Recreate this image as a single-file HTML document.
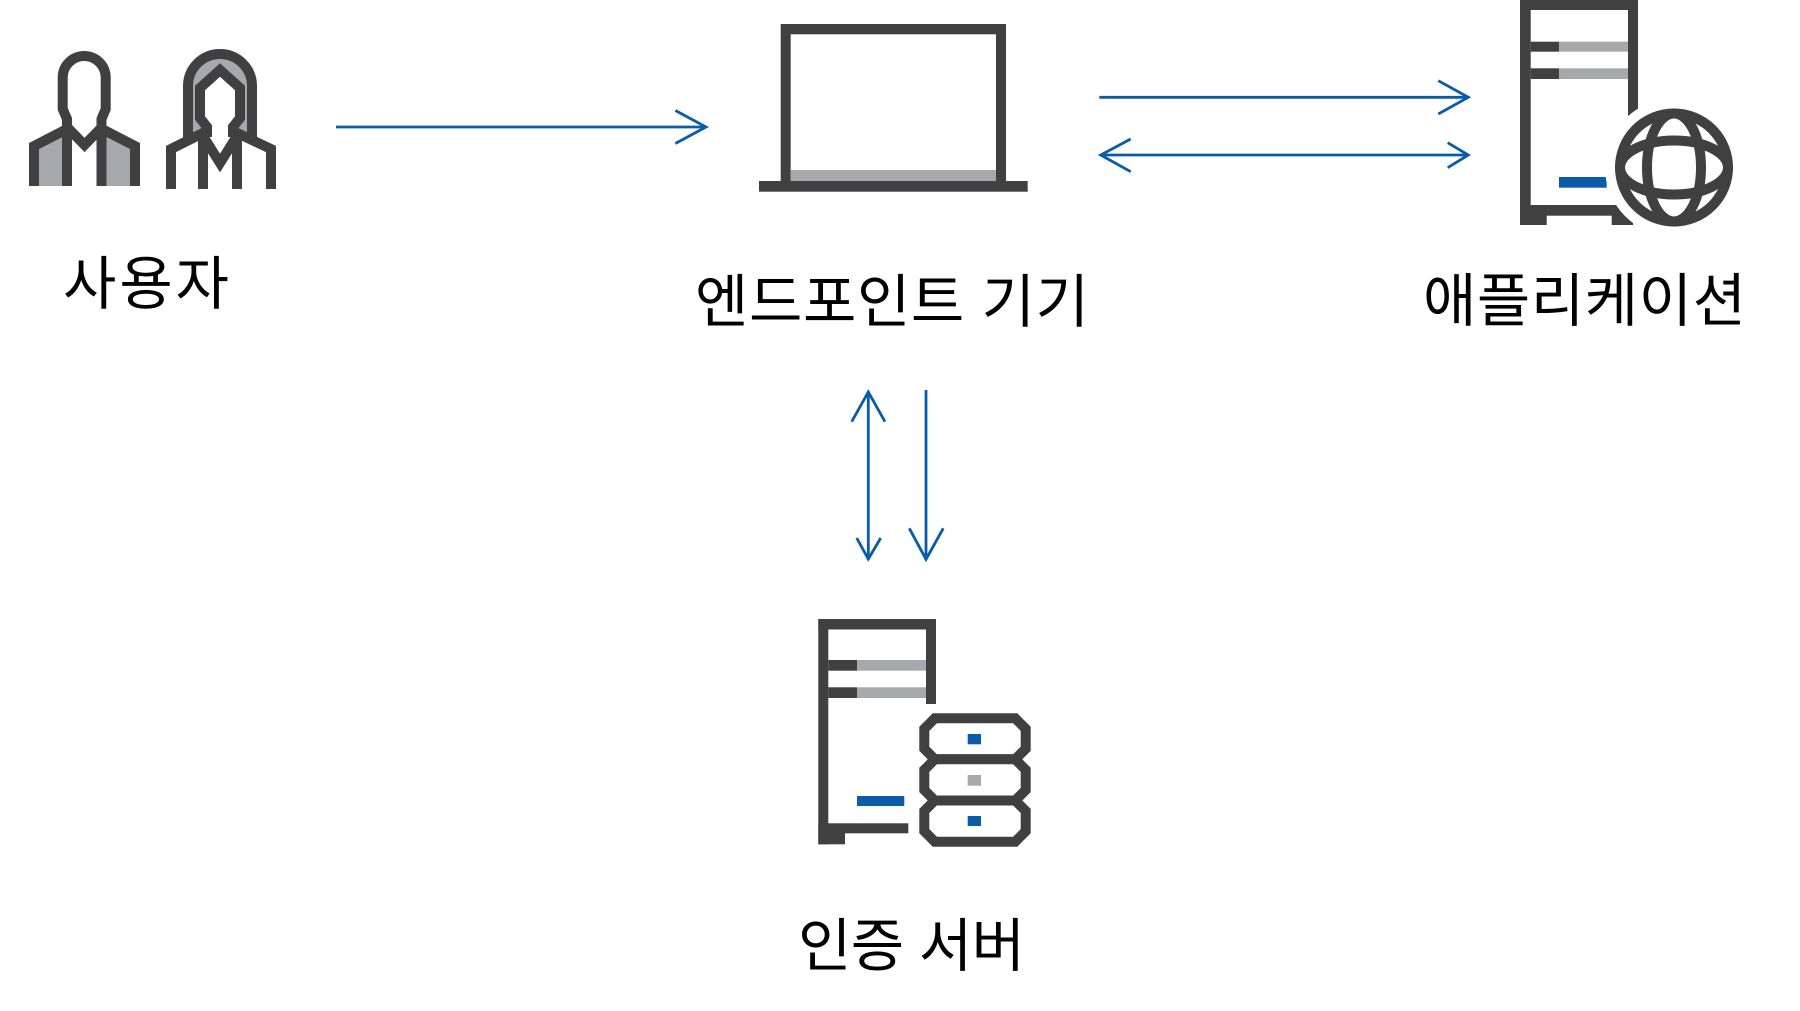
<!DOCTYPE html>
<html>
<head>
<meta charset="utf-8">
<style>
  html,body{margin:0;padding:0;background:#ffffff;}
  body{width:1800px;height:1011px;overflow:hidden;}
  svg{display:block;}
  .lbl{font-family:"Liberation Sans","Noto Sans CJK KR","NanumGothic",sans-serif;font-size:58px;fill:#000;}
</style>
</head>
<body>
<svg width="1800" height="1011" viewBox="0 0 1800 1011" xmlns="http://www.w3.org/2000/svg">
  <rect x="0" y="0" width="1800" height="1011" fill="#ffffff"/>

  <!-- ===== Users ===== -->
  <g stroke="#404040" stroke-width="10" fill="none" stroke-linejoin="miter">
    <!-- man -->
    <polygon points="34,147 67,130 67,186 34,186" fill="#a7a8ab" stroke="none"/>
    <polygon points="102,130 135,147 135,186 102,186" fill="#a7a8ab" stroke="none"/>
    <path d="M67,186 V119 L62.7,109 V77.5 A21.5,21.5 0 0 1 105.7,77.5 V109 L101.5,119 V186"/>
    <path d="M67,129 L34,146 V186"/>
    <path d="M102,129 L135,146 V186"/>
    <path d="M67,127 L84.5,145 L102,127"/>

    <!-- woman -->
    <path d="M188,141 V86 A32,32 0 0 1 252,86 V141 L237,133 L203,133 Z" fill="#a7a8ab" stroke="none"/>
    <path d="M188,141 V86 A32,32 0 0 1 252,86 V141"/>
    <path d="M207,137 V127 L200,118 V88 L220,70 L240,88 V118 L233,127 V137" fill="#ffffff"/>
    <path d="M205,132 L171,149 V189"/>
    <path d="M235,132 L271,149 V189"/>
    <path d="M203,133 V189"/>
    <path d="M237,133 V189"/>
    <path d="M203,136 L220,163 L237,136"/>
  </g>

  <!-- ===== Laptop ===== -->
  <rect x="780.7" y="24" width="225.3" height="157" fill="#404040"/>
  <rect x="790.7" y="34.3" width="205.3" height="146.7" fill="#ffffff"/>
  <rect x="790.7" y="170" width="205.3" height="11" fill="#a7a8ab"/>
  <rect x="759" y="181" width="268.7" height="10.7" fill="#404040"/>

  <!-- ===== Application server ===== -->
  <g fill="#404040">
    <rect x="1520" y="0" width="118" height="10"/>
    <rect x="1520" y="0" width="10.7" height="225"/>
    <rect x="1628" y="0" width="10" height="130"/>
    <rect x="1530.7" y="41.7" width="28.3" height="10"/>
    <rect x="1530.7" y="68.3" width="28.3" height="10.7"/>
    <rect x="1520" y="205" width="113" height="10.7"/>
    <rect x="1520" y="215" width="26.7" height="10"/>
    <rect x="1611.7" y="215" width="21.3" height="10"/>
  </g>
  <rect x="1559" y="41.7" width="69" height="10" fill="#a7a8ab"/>
  <rect x="1559" y="68.3" width="69" height="10.7" fill="#a7a8ab"/>
  <rect x="1559" y="177" width="47.7" height="10.7" fill="#0a5ba8"/>
  <circle cx="1674" cy="167.5" r="69" fill="#ffffff"/>
  <g stroke="#404040" stroke-width="10" fill="none">
    <circle cx="1674" cy="167.5" r="54"/>
    <ellipse cx="1674" cy="167.5" rx="54" ry="27"/>
    <ellipse cx="1674" cy="167.5" rx="27" ry="54"/>
  </g>

  <!-- ===== Auth server ===== -->
  <g fill="#404040">
    <rect x="818.3" y="619" width="117.7" height="10.5"/>
    <rect x="818.3" y="619" width="10" height="225.3"/>
    <rect x="926" y="619" width="10" height="85"/>
    <rect x="828.3" y="660" width="28.7" height="10.7"/>
    <rect x="828.3" y="687.3" width="28.7" height="10.7"/>
    <rect x="818.3" y="823.3" width="90" height="10"/>
    <rect x="818.3" y="833" width="26.7" height="11.3"/>
  </g>
  <rect x="857" y="660" width="69" height="10.7" fill="#a7a8ab"/>
  <rect x="857" y="687.3" width="69" height="10.7" fill="#a7a8ab"/>
  <rect x="857" y="796" width="47.3" height="10" fill="#0a5ba8"/>

  <!-- database stack -->
  <g stroke="#404040" stroke-width="10" fill="#ffffff" stroke-linejoin="miter">
    <polygon points="934.8,718.3 1015.2,718.3 1025.7,728.8 1025.7,748.8 1015.2,759.3 934.8,759.3 924.3,748.8 924.3,728.8"/>
    <polygon points="934.8,759.3 1015.2,759.3 1025.7,769.8 1025.7,790 1015.2,800.5 934.8,800.5 924.3,790 924.3,769.8"/>
    <polygon points="934.8,800.5 1015.2,800.5 1025.7,811 1025.7,831.2 1015.2,841.7 934.8,841.7 924.3,831.2 924.3,811"/>
  </g>
  <rect x="967.7" y="734" width="13.3" height="10.3" fill="#0a5ba8"/>
  <rect x="967.7" y="775" width="13.3" height="10.7" fill="#a7a8ab"/>
  <rect x="967.7" y="816" width="13.3" height="10" fill="#0a5ba8"/>

  <!-- ===== Arrows ===== -->
  <g stroke="#0a5ba8" stroke-width="2.8" fill="none" stroke-linejoin="miter">
    <!-- user -> laptop -->
    <path d="M336,127 H705"/>
    <path d="M675.4,110.5 L706,127 L675.4,143.5"/>
    <!-- laptop -> app -->
    <path d="M1099.3,97.3 H1467"/>
    <path d="M1438.3,80.7 L1468.3,97.3 L1438.3,114"/>
    <!-- app <-> laptop -->
    <path d="M1102,155 H1467"/>
    <path d="M1130.7,139 L1100.7,155 L1130.7,171.7"/>
    <path d="M1447.7,142.7 L1468.3,155 L1447.7,167.7"/>
    <!-- vertical double -->
    <path d="M868.3,393 V558"/>
    <path d="M851.7,421.7 L868.3,392 L885,421.7"/>
    <path d="M856.7,538 L868.3,559 L880.7,538"/>
    <!-- vertical down -->
    <path d="M926,390 V558"/>
    <path d="M909.3,528.3 L926,559.3 L943.3,528.3"/>
  </g>

  <!-- ===== Labels ===== -->
  <text class="lbl" x="63" y="304" textLength="166" lengthAdjust="spacing">사용자</text>
  <text class="lbl" x="695" y="322" textLength="394" lengthAdjust="spacing">엔드포인트 기기</text>
  <text class="lbl" x="1423" y="321" textLength="323" lengthAdjust="spacing">애플리케이션</text>
  <text class="lbl" x="798" y="966" textLength="227" lengthAdjust="spacing">인증 서버</text>
</svg>
</body>
</html>
